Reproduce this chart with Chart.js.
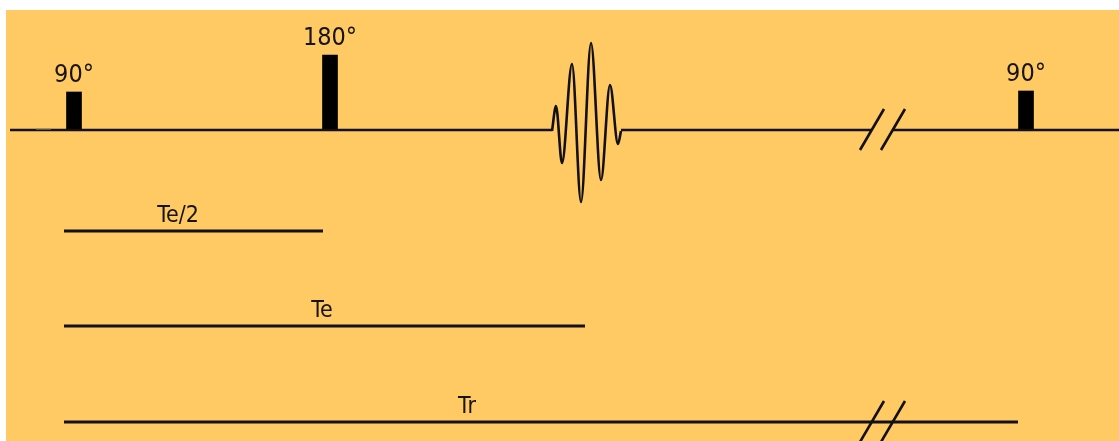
<!DOCTYPE html>
<html>
<head>
<meta charset="utf-8">
<title>Spin echo sequence</title>
<script src="https://cdn.jsdelivr.net/npm/chart.js@4.4.1/dist/chart.umd.min.js"></script>
<style>
  html, body { margin: 0; padding: 0; background: #ffffff; }
  #wrap { width: 1119px; height: 441px; position: relative; }
</style>
</head>
<body>
<div id="wrap"><canvas id="seq"></canvas></div>
<script>
// Time axis runs left to right; rows are measured downward from the top.
const rfRow = 130;

// RF pulses: position on the time axis, height (flip angle size) and label
const pulseTimes = [74, 330, 1026];
const pulseHeights = [38, 75, 39];
const pulseLabels = ['90°', '180°', '90°'];

// Echo signal: extrema of the oscillation (time, amplitude above the baseline)
const echoTimes = [552, 556, 562, 572, 581, 591, 601, 610, 618, 621];
const echoAmps  = [0, 25, -32, 67, -71, 88, -49, 46, -13, 0];

// Interval bars below the RF line
const intervalLabels = ['Te/2', 'Te', 'Tr'];
const intervalRows   = [231, 326, 422];
const intervalStarts = [64, 64, 64];
const intervalEnds   = [323, 585, 1018];
const intervalLabelTimes = [178, 322, 467];

// Time-break marks (pairs of slashes) on the RF line and on the Tr bar
const breakTimes = [871, 892];
const breakRows = [rfRow, 422];

// RF line extent
const rfStart = 10;
const rfEnd = 1119;

const ink = '#121010';

// RF baseline, broken around the echo and the time break
const rfLine = [
  { x: rfStart, y: rfRow }, { x: echoTimes[0], y: rfRow },
  { x: echoTimes[0], y: null },
  { x: echoTimes[echoTimes.length - 1], y: rfRow }, { x: breakTimes[0], y: rfRow },
  { x: breakTimes[0], y: null },
  { x: breakTimes[1], y: rfRow }, { x: rfEnd, y: rfRow }
];

const echoLine = echoTimes.map((t, i) => ({ x: t, y: rfRow + 1 - echoAmps[i] }));

const pulseBars = pulseTimes.map((t, i) => ({ x: t, y: [rfRow, rfRow - pulseHeights[i]] }));

// Each slash crosses its line at the break time
const slashPts = [];
breakRows.forEach(row => {
  breakTimes.forEach(t => {
    slashPts.push({ x: t - 11, y: row + 20 });
    slashPts.push({ x: t + 13, y: row - 21 });
    slashPts.push({ x: t + 13, y: null });
  });
});

const intervalSets = intervalLabels.map((lab, i) => ({
  type: 'line',
  label: lab,
  data: [{ x: intervalStarts[i], y: intervalRows[i] }, { x: intervalEnds[i], y: intervalRows[i] }],
  borderColor: ink,
  borderWidth: 2.8,
  pointRadius: 0
}));

// Background panel and text labels above pulses and interval bars
const labelPlugin = {
  id: 'seqLabels',
  beforeDraw(chart) {
    const { ctx, scales: { x, y } } = chart;
    ctx.save();
    ctx.fillStyle = '#ffffff';
    ctx.fillRect(0, 0, chart.width, chart.height);
    ctx.fillStyle = '#ffc963';
    const x0 = x.getPixelForValue(6), y0 = y.getPixelForValue(10);
    ctx.fillRect(x0, y0, chart.width - x0, chart.height - y0);
    ctx.restore();
  },
  afterDatasetsDraw(chart) {
    const { ctx, scales: { x, y } } = chart;
    ctx.save();
    ctx.fillStyle = '#161310';
    ctx.textAlign = 'center';
    ctx.textBaseline = 'alphabetic';
    ctx.font = '25px "DejaVu Sans Condensed", "DejaVu Sans", sans-serif';
    pulseTimes.forEach((t, i) => {
      const top = rfRow - pulseHeights[i];
      ctx.fillText(pulseLabels[i], x.getPixelForValue(t), y.getPixelForValue(top - 10));
    });
    ctx.font = '23px "Liberation Sans Narrow", "DejaVu Sans Condensed", sans-serif';
    intervalLabels.forEach((lab, i) => {
      ctx.fillText(lab, x.getPixelForValue(intervalLabelTimes[i]), y.getPixelForValue(intervalRows[i] - 9));
    });
    ctx.restore();
  }
};

new Chart(document.getElementById('seq'), {
  type: 'line',
  data: {
    datasets: [
      {
        type: 'line',
        label: 'marker',
        data: [{ x: 36, y: rfRow - 1 }, { x: 51, y: rfRow - 1 }],
        borderColor: 'rgba(150,140,110,0.55)',
        borderWidth: 2,
        pointRadius: 0
      },
      {
        type: 'line',
        label: 'RF',
        data: rfLine,
        borderColor: ink,
        borderWidth: 2.4,
        pointRadius: 0,
        spanGaps: false
      },
      {
        type: 'line',
        label: 'Echo',
        data: echoLine,
        borderColor: ink,
        borderWidth: 2.6,
        pointRadius: 0,
        cubicInterpolationMode: 'monotone'
      },
      {
        type: 'bar',
        label: 'Pulses',
        data: pulseBars,
        backgroundColor: '#000000',
        borderWidth: 0,
        barThickness: 15,
        borderSkipped: false
      },
      ...intervalSets,
      {
        type: 'line',
        label: 'Breaks',
        data: slashPts,
        borderColor: ink,
        borderWidth: 2.6,
        pointRadius: 0,
        spanGaps: false
      }
    ]
  },
  options: {
    responsive: true,
    maintainAspectRatio: false,
    animation: false,
    layout: { padding: 0 },
    plugins: { legend: { display: false }, tooltip: { enabled: false } },
    scales: {
      x: { type: 'linear', min: 0, max: 1119, display: false, offset: false },
      y: { type: 'linear', min: 0, max: 441, reverse: true, display: false }
    }
  },
  plugins: [labelPlugin]
});
</script>
</body>
</html>
